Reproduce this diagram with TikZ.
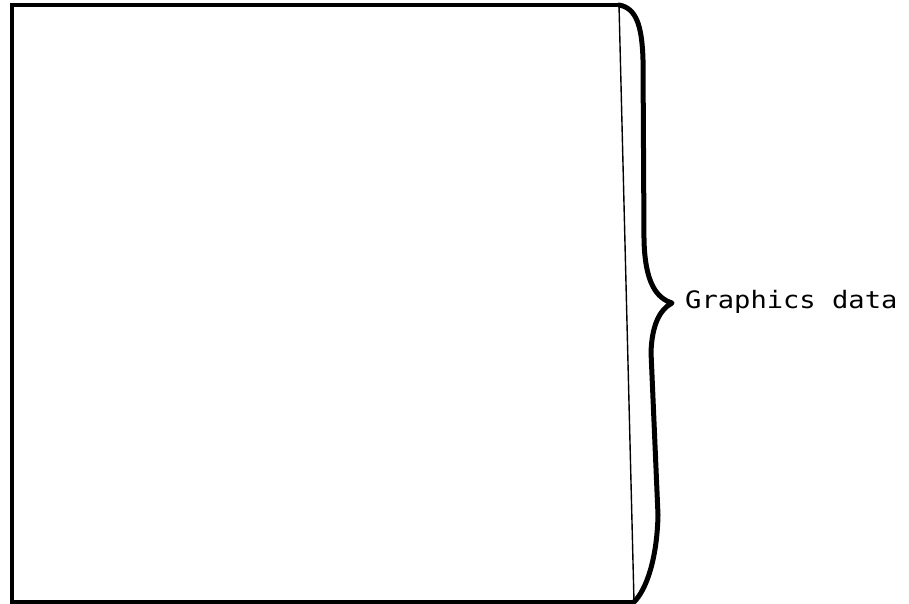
\documentclass[tikz,border=0pt]{standalone}
\usepackage{fontspec}
\newfontfamily\gdfont[FakeStretch=1.13]{DejaVu Sans Mono}
\usetikzlibrary{positioning}
\usetikzlibrary{calc}
\tikzset{
  gd frame/.style={
    draw=black,
    line width=3.2pt,
    line cap=round,
  },
}
\tikzset{
  gd strip/.style={
    draw=black,
    line width=1.4pt,
  },
}
\tikzset{
  gd brace/.style={
    draw=black,
    line width=5pt,
    line cap=round,
    line join=round,
  },
}
\tikzset{
  gd label/.style={
    font=\gdfont\fontsize{24}{28}\selectfont,
    text=black,
    inner sep=0pt,
  },
}
\tikzset{
  gd figure/.style={
    x=1pt,
    y=-1pt,
  },
}

\begin{document}
\begin{tikzpicture}[gd figure]

  % =========================================================================
  % Page extent
  % =========================================================================
  \useasboundingbox (0,0) rectangle (909,604);

  % =========================================================================
  % Corners of the data area
  % =========================================================================
  \coordinate (gd_tl) at (12, 5);
  \coordinate (gd_tr) at (619, 5);
  \coordinate (gd_br) at (634, 602);
  \coordinate (gd_bl) at (12, 602);

  % =========================================================================
  % Frame (top, left, bottom) and thin right-hand strip line
  % =========================================================================
  \draw[gd frame] (gd_tr) -- (gd_tl) -- (gd_bl) -- (gd_br);
  \draw[gd strip] (gd_tr) -- (gd_br);

  % =========================================================================
  % Brace spanning the whole height, tip pointing to the label
  % =========================================================================
  \coordinate (gd_tip) at (672, 303);
  \draw[gd brace]
    (gd_tr)
    .. controls (636, 8) and (642, 25) .. (643, 60)
    -- (644, 240)
    .. controls (645, 282) and (656, 298) .. (gd_tip)
    .. controls (659, 310) and (652, 326) .. (651, 352)
    -- (658, 515)
    .. controls (657, 560) and (646, 590) .. (gd_br);

  % =========================================================================
  % Label
  % =========================================================================
  \node[gd label, anchor=base west] (gd_text) at (685, 308) {Graphics data};

\end{tikzpicture}
\end{document}
